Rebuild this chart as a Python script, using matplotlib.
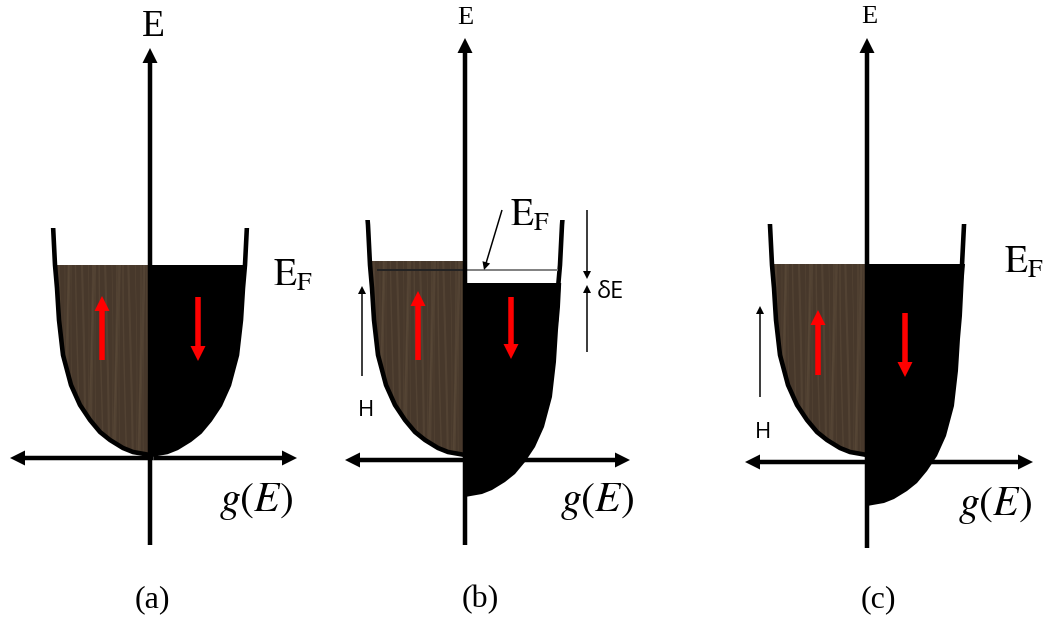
import matplotlib
matplotlib.use('Agg')
import matplotlib.pyplot as plt
import numpy as np
from matplotlib.path import Path
from matplotlib.patches import PathPatch, Rectangle
from matplotlib.transforms import Bbox

plt.rcParams['mathtext.fontset'] = 'stix'
plt.rcParams['font.family'] = ['Liberation Serif', 'DejaVu Serif']

# band shape: height above band bottom -> half width (px)
band_h = [0, 3, 7, 15, 23, 35, 50, 70, 100, 135, 167, 190, 210, 230, 255]
band_w = [0, 17, 27, 40, 50, 60, 70, 79, 87, 91, 93, 95, 96, 97, 99]

panel_labels = ['(a)', '(b)', '(c)']
axis_x = [150, 465, 867]          # vertical E axis
axis_y = [458, 460, 462]          # horizontal g(E) axis
axis_left = [10, 345, 745]
axis_right = [297, 630, 1033]
axis_bottom = [545, 545, 548]
axis_top = [48, 38, 38]
band_bottom = [455, 455, 455]
wall_top = [228, 220, 224]
up_fill_top = [265, 261, 264]
down_fill_top = [265, 283, 264]
down_shift = [0, 42, 51]          # spin-down band pushed down by H

red_up = [(102, 360, 296), (418, 360, 291), (818, 375, 310)]      # x, tail, tip
red_down = [(198, 297, 361), (511, 297, 359), (905, 313, 377)]

e_label = [(153, 27, 27), (465, 18, 19), (869, 17, 19)]   # x, y, size
ef_label = [(273, 276), (510, 216), (1004, 263)]
ge_label = [(256, 501), (597, 501), (995, 506)]
sub_label = [(152, 600), (480, 600), (878, 600)]

BROWN = '#47382b'
STREAK = '#7d6a50'

fig = plt.figure(figsize=(10.52, 6.2), dpi=100)
ax = fig.add_axes([0, 0, 1, 1])
ax.set_xlim(0, 1052)
ax.set_ylim(620, 0)
ax.axis('off')

hs = np.array(band_h, dtype=float)
ws = np.array(band_w, dtype=float)


def half_band(xc, y0, side):
    xs = xc + side * ws
    ys = y0 - hs
    verts = list(zip(xs, ys)) + [(xc, y0 - hs[-1]), (xc, y0)]
    return Path(verts, closed=True)


def arrow(x0, y0, x1, y1, width, color, head, zorder=4):
    ax.arrow(x0, y0, x1 - x0, y1 - y0, width=width, head_width=head,
             head_length=head, length_includes_head=True, color=color,
             lw=0, zorder=zorder)


for i in range(3):
    xc = axis_x[i]
    y0 = band_bottom[i]

    # spin-up half (wood brown)
    up = half_band(xc, y0, -1).clip_to_bbox(Bbox([[0, up_fill_top[i]], [1052, 620]]))
    up_patch = PathPatch(up, facecolor=BROWN, edgecolor='none', zorder=1)
    ax.add_patch(up_patch)
    for k, sx in enumerate(np.linspace(xc - 100, xc, 26)):
        sy = np.linspace(up_fill_top[i], y0, 20)
        line, = ax.plot(sx + 3 * np.sin((sy - y0) / 110.0 + k), sy, color=STREAK,
                        lw=0.5 + 0.5 * (k % 3), alpha=0.22, zorder=1.5)
        line.set_clip_path(up_patch)

    # spin-down half (black)
    dn = half_band(xc, y0 + down_shift[i], 1).clip_to_bbox(
        Bbox([[0, down_fill_top[i]], [1052, 620]]))
    ax.add_patch(PathPatch(dn, facecolor='black', edgecolor='none', zorder=1))

    # band outline
    clip = Rectangle((0, wall_top[i]), 1052, 700, transform=ax.transData)
    for side in (-1, 1):
        ol, = ax.plot(xc + side * ws, y0 - hs, color='black', lw=3.3,
                      solid_capstyle='round', zorder=2)
        ol.set_clip_path(clip)

    # axes
    arrow(xc, axis_bottom[i], xc, axis_top[i], 4.5, 'black', 15, zorder=3)
    mid = (axis_left[i] + axis_right[i]) / 2
    arrow(mid, axis_y[i], axis_left[i], axis_y[i], 4.5, 'black', 15, zorder=3)
    arrow(mid, axis_y[i], axis_right[i], axis_y[i], 4.5, 'black', 15, zorder=3)

    # spin arrows
    x, t0, t1 = red_up[i]
    arrow(x, t0, x, t1, 5.5, 'red', 15)
    x, t0, t1 = red_down[i]
    arrow(x, t0, x, t1, 5.5, 'red', 15)

    # labels
    ex, ey, es = e_label[i]
    ax.text(ex, ey, 'E', fontsize=es, ha='center', va='center')
    fx, fy = ef_label[i]
    ax.text(fx, fy, r'$\mathrm{E}_{\mathrm{F}}$', fontsize=27, ha='left', va='center')
    gx, gy = ge_label[i]
    ax.text(gx, gy, r'$g(E)$', fontsize=30, ha='center', va='center')
    lx, ly = sub_label[i]
    ax.text(lx, ly, panel_labels[i], fontsize=23, ha='center', va='center')

# Fermi level markers in (b)
ax.plot([378, 465], [270, 270], color='#222222', lw=1.4, zorder=2.5)
ax.plot([465, 557], [270, 270], color='#808080', lw=1.4, zorder=2.5)
arrow(502, 210, 484, 270, 1.5, 'black', 8)

# delta E in (b)
sans = ['Open Sans', 'DejaVu Sans']
arrow(587, 210, 587, 279, 1.5, 'black', 8)
arrow(587, 352, 587, 285, 1.5, 'black', 8)
ax.text(597, 292, 'δE', fontsize=17, family=sans, ha='left', va='center')

# field arrows
arrow(362, 376, 362, 286, 1.5, 'black', 8)
ax.text(366, 410, 'H', fontsize=16, family=sans, ha='center', va='center')
arrow(760, 397, 760, 306, 1.5, 'black', 8)
ax.text(763, 432, 'H', fontsize=16, family=sans, ha='center', va='center')

fig.savefig('out.png', dpi=100)
